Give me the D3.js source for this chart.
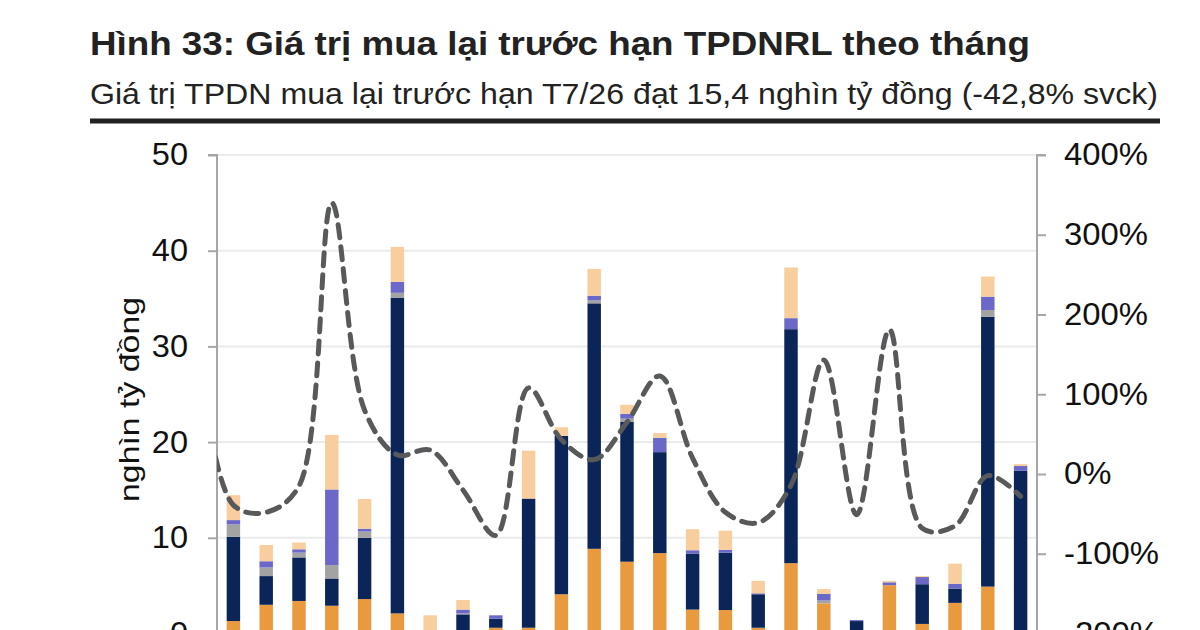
<!DOCTYPE html>
<html>
<head>
<meta charset="utf-8">
<script src="https://cdn.jsdelivr.net/npm/d3@7/dist/d3.min.js"></script>
<style>
  html, body { margin: 0; padding: 0; background: #fff; }
  svg { display: block; font-family: "Liberation Sans", Arial, sans-serif; }
</style>
</head>
<body>
<svg id="chart" width="1200" height="630"></svg>
<script>
// ---- Data ----
const months = ["T7/24","T8/24","T9/24","T10/24","T11/24","T12/24","T1/25","T2/25","T3/25","T4/25","T5/25","T6/25","T7/25","T8/25","T9/25","T10/25","T11/25","T12/25","T1/26","T2/26","T3/26","T4/26","T5/26","T6/26","T7/26"];
const seriesNames = ["Orange", "Navy", "Gray", "Purple", "Peach"];
const orangeVals = [1.3, 3.0, 3.4, 2.9, 3.6, 2.1, 0.2, 0.1, 0.6, 0.6, 4.1, 8.85, 7.5, 8.4, 2.5, 2.45, 0.6, 7.35, 3.15, 0.0, 5.05, 1.0, 3.2, 4.9, 0.2];
const navyVals   = [8.8, 3.0, 4.55, 2.85, 6.4, 33.0, 0.0, 1.9, 0.95, 13.5, 16.55, 25.65, 14.6, 10.55, 5.85, 6.0, 3.5, 24.45, 0.0, 1.3, 0.0, 4.15, 1.5, 28.2, 16.8];
const grayVals   = [1.3, 0.9, 0.5, 1.4, 0.65, 0.5, 0.0, 0.1, 0.0, 0.0, 0.0, 0.3, 0.35, 0.0, 0.0, 0.0, 0.0, 0.0, 0.3, 0.0, 0.0, 0.0, 0.0, 0.7, 0.0];
const purpleVals = [0.45, 0.65, 0.35, 7.9, 0.3, 1.15, 0.0, 0.4, 0.35, 0.0, 0.0, 0.5, 0.5, 1.5, 0.35, 0.3, 0.1, 1.15, 0.7, 0.1, 0.3, 0.75, 0.5, 1.4, 0.5];
const peachVals  = [2.6, 1.7, 0.7, 5.7, 3.1, 3.65, 1.7, 1.0, 0.0, 5.0, 0.9, 2.8, 0.95, 0.5, 2.2, 2.0, 1.3, 5.3, 0.5, 0.0, 0.15, 0.1, 2.1, 2.1, 0.2];
// YoY growth (%), first value belongs to the month before the first bar (clipped by the plot)
const yoyPrev = 130;
const yoyVals = [-39, -48, -15, 340, 80, 24, 30, -20, -77, 108, 43, 18, 65, 123, 20, -48, -61, -14, 143, -51, 181, -68, -65, -2, -28];
const leftTicks = [0, 10, 20, 30, 40, 50];
const rightTicks = [-200, -100, 0, 100, 200, 300, 400];

const title = "Hình 33: Giá trị mua lại trước hạn TPDNRL theo tháng";
const subtitle = "Giá trị TPDN mua lại trước hạn T7/26 đạt 15,4 nghìn tỷ đồng (-42,8% svck)";
const yLabel = "nghìn tỷ đồng";

// ---- Layout ----
const colors = ["#E99A3F", "#0C2559", "#A3A3A3", "#6B68C8", "#F8CE9F"];
const plot = { left: 217, right: 1037, top: 155, bottom: 633.5 };

const svg = d3.select("#chart");

svg.append("text").attr("x", 90).attr("y", 55)
  .attr("font-size", 32.5).attr("font-weight", "bold").attr("fill", "#222")
  .attr("textLength", 940).attr("lengthAdjust", "spacingAndGlyphs")
  .text(title);
svg.append("text").attr("x", 90).attr("y", 104)
  .attr("font-size", 30).attr("fill", "#222")
  .attr("textLength", 1068).attr("lengthAdjust", "spacingAndGlyphs")
  .text(subtitle);
svg.append("rect").attr("x", 90).attr("y", 118.5).attr("width", 1070).attr("height", 5).attr("fill", "#222");

const x = d3.scaleBand().domain(months).range([plot.left, plot.right]).paddingInner(0.59).paddingOuter(0.295);
const yL = d3.scaleLinear().domain([0, 50]).range([plot.bottom, plot.top]);
const yR = d3.scaleLinear().domain([-200, 400]).range([plot.bottom, plot.top]);

// gridlines
svg.append("g").selectAll("line").data(leftTicks).join("line")
  .attr("x1", plot.left).attr("x2", plot.right)
  .attr("y1", d => yL(d)).attr("y2", d => yL(d))
  .attr("stroke", "#EBEBEB").attr("stroke-width", 2);

// stacked bars
const table = months.map((m, i) => ({
  month: m,
  Orange: orangeVals[i], Navy: navyVals[i], Gray: grayVals[i], Purple: purpleVals[i], Peach: peachVals[i]
}));
const stacked = d3.stack().keys(seriesNames)(table);
svg.append("g").selectAll("g").data(stacked).join("g")
  .attr("fill", (d, i) => colors[i])
  .selectAll("rect").data(d => d).join("rect")
  .attr("x", d => x(d.data.month))
  .attr("width", x.bandwidth())
  .attr("y", d => yL(d[1]))
  .attr("height", d => Math.max(0, yL(d[0]) - yL(d[1])));

function widen(sel, f) {
  sel.each(function () {
    const w = this.getComputedTextLength();
    d3.select(this).attr("textLength", w * f).attr("lengthAdjust", "spacingAndGlyphs");
  });
}

// axes
const leftAxis = d3.axisLeft(yL).tickValues(leftTicks).tickSize(9).tickPadding(20).tickFormat(d3.format("d"));
const gL = svg.append("g").attr("transform", `translate(${plot.left},0)`).call(leftAxis);
gL.select(".domain").attr("stroke", "#A6A6A6").attr("stroke-width", 2).attr("d", `M-9,${plot.top}H0V${plot.bottom}`);
gL.selectAll(".tick line").attr("stroke", "#A6A6A6").attr("stroke-width", 2);
gL.selectAll(".tick text").attr("font-size", 31).attr("fill", "#111").attr("font-family", "Liberation Sans, Arial, sans-serif");
widen(gL.selectAll(".tick text"), 1.05);

const rightAxis = d3.axisRight(yR).tickValues(rightTicks).tickSize(9).tickPadding(18).tickFormat(d => d + "%");
const gR = svg.append("g").attr("transform", `translate(${plot.right},0)`).call(rightAxis);
gR.select(".domain").attr("stroke", "#A6A6A6").attr("stroke-width", 2).attr("d", `M9,${plot.top}H0V${plot.bottom}`);
gR.selectAll(".tick line").attr("stroke", "#A6A6A6").attr("stroke-width", 2);
gR.selectAll(".tick text").attr("font-size", 31).attr("fill", "#111").attr("font-family", "Liberation Sans, Arial, sans-serif");
widen(gR.selectAll(".tick text"), 1.06);

// y label
svg.append("text")
  .attr("transform", `translate(139,399.5) rotate(-90)`)
  .attr("text-anchor", "middle").attr("font-size", 28).attr("fill", "#111")
  .attr("textLength", 205).attr("lengthAdjust", "spacingAndGlyphs")
  .text(yLabel);

// dashed YoY line
svg.append("clipPath").attr("id", "plotClip").append("rect")
  .attr("x", plot.left).attr("y", 0).attr("width", plot.right - plot.left).attr("height", 630);
const step = x.step();
const linePts = [{ cx: x(months[0]) + x.bandwidth() / 2 - step, v: yoyPrev }]
  .concat(months.map((m, i) => ({ cx: x(m) + x.bandwidth() / 2, v: yoyVals[i] })));
const line = d3.line().x(d => d.cx).y(d => yR(d.v)).curve(d3.curveCatmullRom.alpha(0.5));
svg.append("path").datum(linePts)
  .attr("clip-path", "url(#plotClip)")
  .attr("d", line)
  .attr("fill", "none").attr("stroke", "#58595B").attr("stroke-width", 5)
  .attr("stroke-dasharray", "13,9").attr("stroke-linecap", "round");
</script>
</body>
</html>
